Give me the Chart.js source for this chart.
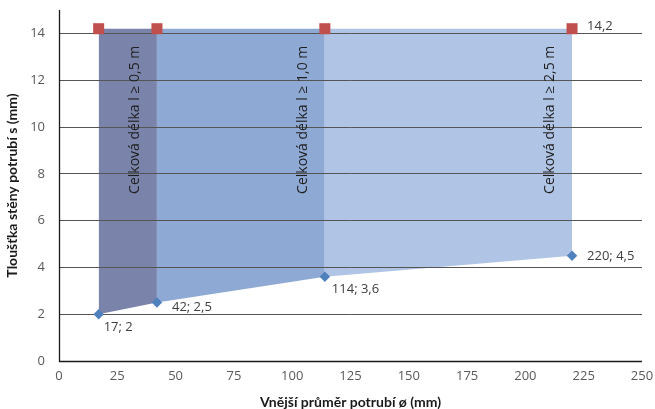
<!DOCTYPE html>
<html><head><meta charset="utf-8">
<script src="https://cdn.jsdelivr.net/npm/chart.js@4/dist/chart.umd.min.js"></script>
<style>html,body{margin:0;padding:0;background:#fff;overflow:hidden}</style>
</head><body>
<canvas id="c" width="655" height="409" style="display:block;width:655px;height:409px"></canvas>
<script>
// ---- data ----
const diameters = [17, 42, 114, 220];
const minThickness = [2, 2.5, 3.6, 4.5];
const maxThickness = [14.2, 14.2, 14.2, 14.2];
const zoneLabels = ['Celková délka l ≥ 0,5 m', 'Celková délka l ≥ 1,0 m', 'Celková délka l ≥ 2,5 m'];
const xTicks = [0, 25, 50, 75, 100, 125, 150, 175, 200, 225, 250];
const yTicks = [0, 2, 4, 6, 8, 10, 12, 14];
const xTitle = 'Vnější průměr potrubí ø (mm)';
const yTitle = 'Tloušťka stěny potrubí s (mm)';

// ---- styles ----
const zoneColors = ['#7A83A9', '#8FA9D5', '#B0C4E5'];
const FONT = "'Open Sans', 'Noto Sans', sans-serif";
const TFONT = "Lato, 'Open Sans', sans-serif";
const fmt = v => String(v).replace('.', ',');
const lowLabelOffsets = [[5, 13], [15, 5], [7, 13], [15, 1]];
const upLabelShow = [false, false, false, true];

const datasets = [];
for (let i = 0; i < diameters.length - 1; i++) {
  datasets.push({
    type: 'line',
    data: [{x: diameters[i], y: minThickness[i]}, {x: diameters[i + 1], y: minThickness[i + 1]}],
    borderWidth: 0, borderColor: 'transparent', pointRadius: 0,
    backgroundColor: zoneColors[i],
    fill: {value: maxThickness[i]},
    tension: 0
  });
}
const upIdx = datasets.length;
datasets.push({
  type: 'line', showLine: false, marker: true,
  data: diameters.map((d, i) => ({x: d, y: maxThickness[i]})),
  pointStyle: 'rect', pointRadius: 7.8, pointBackgroundColor: '#C0504D', pointBorderWidth: 0, pointBorderColor: '#C0504D'
});
const lowIdx = datasets.length;
datasets.push({
  type: 'line', showLine: false, marker: true,
  data: diameters.map((d, i) => ({x: d, y: minThickness[i]})),
  pointStyle: 'rectRot', pointRadius: 5.2, pointBackgroundColor: '#4F81BD', pointBorderWidth: 0, pointBorderColor: '#4F81BD'
});

const overlay = {
  id: 'overlay',
  beforeDatasetDraw(chart, args) {
    if (chart.data.datasets[args.index].marker) return false;
  },
  afterDraw(chart) {
    const ctx = chart.ctx, xs = chart.scales.x, ys = chart.scales.y, a = chart.chartArea;
    // axis lines
    ctx.save();
    ctx.strokeStyle = '#1a1a1a';
    ctx.lineWidth = 1.3;
    ctx.beginPath();
    ctx.moveTo(a.left + 0.5, a.top);
    ctx.lineTo(a.left + 0.5, a.bottom + 0.5);
    ctx.lineTo(a.right, a.bottom + 0.5);
    ctx.stroke();
    ctx.restore();
    // zone texts (rotated)
    ctx.save();
    ctx.fillStyle = '#1f1f1f';
    ctx.font = '14px ' + FONT;
    ctx.textAlign = 'right';
    ctx.textBaseline = 'middle';
    for (let i = 0; i < zoneLabels.length; i++) {
      const px = xs.getPixelForValue(diameters[i + 1]) - 22;
      const py = ys.getPixelForValue(maxThickness[i + 1]) + 17;
      ctx.save();
      ctx.translate(px, py);
      ctx.rotate(-Math.PI / 2);
      ctx.fillText(zoneLabels[i], 0, 0);
      ctx.restore();
    }
    ctx.restore();
    // markers on top
    [upIdx, lowIdx].forEach(i => chart.getDatasetMeta(i).controller.draw());
    // data labels
    ctx.save();
    ctx.fillStyle = '#404040';
    ctx.font = '13px ' + FONT;
    ctx.textAlign = 'left';
    ctx.textBaseline = 'middle';
    diameters.forEach((d, i) => {
      const px = xs.getPixelForValue(d), py = ys.getPixelForValue(minThickness[i]);
      ctx.fillText(d + '; ' + fmt(minThickness[i]), px + lowLabelOffsets[i][0], py + lowLabelOffsets[i][1]);
      if (upLabelShow[i]) {
        const qy = ys.getPixelForValue(maxThickness[i]);
        ctx.fillText(fmt(maxThickness[i]), px + 15, qy - 2);
      }
    });
    ctx.restore();
  }
};

new Chart(document.getElementById('c'), {
  type: 'line',
  data: {datasets},
  plugins: [overlay],
  options: {
    responsive: false, animation: false, devicePixelRatio: 1,
    layout: {padding: {left: 0, right: 13, top: 10, bottom: 0}},
    plugins: {legend: {display: false}, tooltip: {enabled: false}},
    scales: {
      x: {
        type: 'linear', min: 0, max: 250,
        afterBuildTicks: s => { s.ticks = xTicks.map(v => ({value: v})); },
        afterFit: s => { s.height = 48; s.paddingLeft = 0; s.paddingRight = 0; },
        grid: {display: false, drawTicks: false},
        border: {display: false},
        ticks: {color: '#595959', font: {family: FONT, size: 13}, padding: 7, maxRotation: 0},
        title: {display: true, text: xTitle, color: '#1a1a1a', font: {family: TFONT, size: 14, weight: 'bold'}, padding: {top: 0, bottom: -2}}
      },
      y: {
        type: 'linear', min: 0, max: 15,
        afterBuildTicks: s => { s.ticks = yTicks.map(v => ({value: v})); },
        afterFit: s => { s.width = 59; s.paddingTop = 0; s.paddingBottom = 0; },
        grid: {display: true, drawTicks: false, color: '#555555', lineWidth: 1, z: 1},
        border: {display: false},
        ticks: {color: '#595959', font: {family: FONT, size: 13}, padding: 14},
        title: {display: true, text: yTitle, color: '#1a1a1a', font: {family: TFONT, size: 14, weight: 'bold'}, padding: {top: 4, bottom: 0}}
      }
    }
  }
});
</script>
</body></html>
